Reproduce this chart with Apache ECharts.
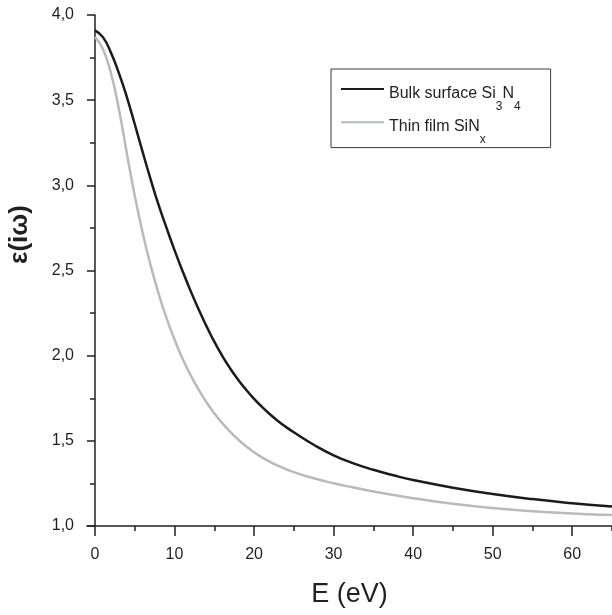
<!DOCTYPE html>
<html>
<head>
<meta charset="utf-8">
<script src="https://cdn.jsdelivr.net/npm/echarts@6/dist/echarts.min.js"></script>
<style>
html,body{margin:0;padding:0;background:#fff;}
#chart{width:612px;height:615px;}
</style>
</head>
<body>
<div id="chart"></div>
<script>
// Photon energy E (eV)
var energy = [0,1,2,3,4,5,6,7,8,9,10,11,12,13,14,15,16,17,18,19,20,21,22,23,24,25,27.5,30,32.5,35,37.5,40,45,50,55,60,65];
// epsilon(i omega) for bulk surface Si3N4
var bulkSi3N4 = [3.91,3.87,3.78,3.66,3.52,3.36,3.195,3.035,2.885,2.75,2.62,2.498,2.383,2.275,2.175,2.082,1.999,1.925,1.859,1.800,1.747,1.699,1.656,1.617,1.582,1.55,1.477,1.415,1.368,1.33,1.298,1.27,1.225,1.188,1.158,1.134,1.114];
// epsilon(i omega) for thin film SiNx
var thinSiNx = [3.87,3.80,3.66,3.45,3.19,2.94,2.72,2.53,2.365,2.22,2.095,1.983,1.888,1.803,1.728,1.662,1.604,1.553,1.508,1.468,1.433,1.403,1.377,1.354,1.334,1.316,1.28,1.251,1.226,1.203,1.182,1.163,1.13,1.105,1.087,1.074,1.064];
// tick values
var xMajorTicks = [0,10,20,30,40,50,60];
var xMinorTicks = [5,15,25,35,45,55,65];
var seriesNames = ['Bulk surface Si3N4','Thin film SiNx'];

var FONT = "'Liberation Sans',Arial,sans-serif";
var AX = '#231f20';

function pairs(xs, ys){ return xs.map(function(x,i){ return [x, ys[i]]; }); }

var chart = echarts.init(document.getElementById('chart'), null, {renderer:'canvas'});
chart.setOption({
  animation: false,
  backgroundColor: '#ffffff',
  grid: {left: 87, right: 0, top: 15, bottom: 89, containLabel: false, outerBoundsMode: 'none'},
  xAxis: [{
    type: 'value', min: -1, max: 65, position: 'bottom',
    name: 'E (eV)', nameLocation: 'middle', nameGap: 55,
    nameTextStyle: {fontFamily: FONT, fontSize: 27, color: AX},
    axisLine: {show: true, onZero: false, lineStyle: {color: AX, width: 1.5}},
    axisTick: {show: true, customValues: xMajorTicks, length: 10, lineStyle: {color: AX, width: 1.5}},
    axisLabel: {show: true, customValues: xMajorTicks, margin: 21, fontFamily: FONT, fontSize: 16, color: AX},
    splitLine: {show: false}
  }, {
    type: 'value', min: -1, max: 65, position: 'bottom',
    axisLine: {show: false},
    axisTick: {show: true, customValues: xMinorTicks, length: 5, lineStyle: {color: AX, width: 1.5}},
    axisLabel: {show: false},
    splitLine: {show: false}
  }],
  yAxis: {
    type: 'value', min: 1, max: 4, interval: 0.5,
    name: 'ε(iω)', nameLocation: 'middle', nameGap: 54, nameRotate: 90,
    nameTextStyle: {fontFamily: FONT, fontSize: 26, fontWeight: 'bold', color: AX, padding: [0,0,0,72]},
    axisLine: {show: true, lineStyle: {color: AX, width: 1.5}},
    axisTick: {show: true, length: 8, lineStyle: {color: AX, width: 1.5}},
    minorTick: {show: true, splitNumber: 2, length: 5, lineStyle: {color: AX, width: 1.5}},
    axisLabel: {margin: 13, fontFamily: FONT, fontSize: 16, color: AX,
      formatter: function(v){ return v.toFixed(1).replace('.', ','); }},
    splitLine: {show: false},
    minorSplitLine: {show: false}
  },
  legend: {
    orient: 'vertical', left: 331, top: 69,
    padding: [13, 30, 2, 9], itemGap: 3, itemWidth: 43, itemHeight: 2,
    borderColor: '#3a3a3a', borderWidth: 1, backgroundColor: '#fff',
    data: seriesNames,
    formatter: function(name){
      if (name === seriesNames[0]) return '{n|Bulk surface Si}{s|3}{n|N}{s|4}';
      return '{n|Thin film SiN}{s|x}';
    },
    textStyle: {
      color: AX,
      rich: {
        n: {fontFamily: FONT, fontSize: 16, color: AX, lineHeight: 14, padding: [3.5,0,0,0], verticalAlign: 'top'},
        s: {fontFamily: FONT, fontSize: 12, color: AX, lineHeight: 1, padding: [18.3,0,0,0], verticalAlign: 'top'}
      }
    }
  },
  series: [{
    name: seriesNames[0], type: 'line', xAxisIndex: 0, smooth: true, symbol: 'none',
    data: pairs(energy, bulkSi3N4),
    lineStyle: {color: '#1e1a1b', width: 2.5}, itemStyle: {color: '#1e1a1b'}
  }, {
    name: seriesNames[1], type: 'line', xAxisIndex: 0, smooth: true, symbol: 'none',
    data: pairs(energy, thinSiNx),
    lineStyle: {color: '#b9babd', width: 2.5}, itemStyle: {color: '#b9babd'}
  }]
});
</script>
</body>
</html>
